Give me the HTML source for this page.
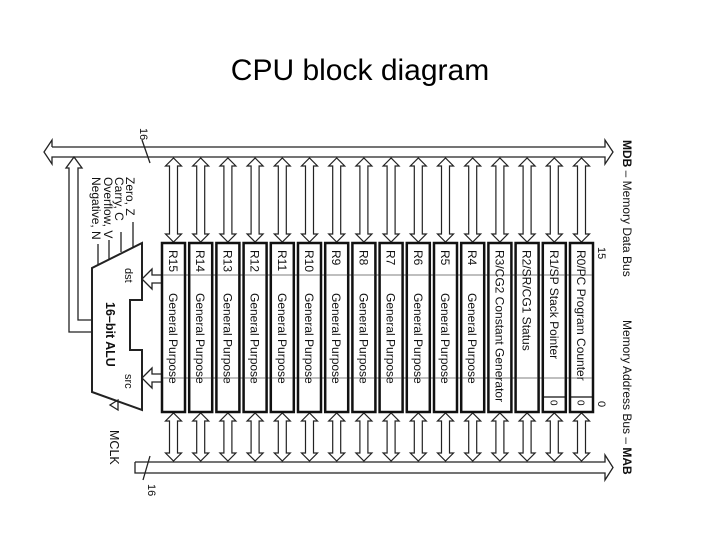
<!DOCTYPE html>
<html><head><meta charset="utf-8"><style>
html,body{margin:0;padding:0;background:#fff;}
svg{display:block;font-family:"Liberation Sans",sans-serif;}
</style></head><body>
<svg id="s" width="720" height="540" viewBox="0 0 720 540" xmlns="http://www.w3.org/2000/svg">
<text x="360" y="80" font-size="30" text-anchor="middle" fill="#000">CPU block diagram</text>
<g fill="none" stroke="#222" stroke-width="1.3">
<polyline points="52,147 605,147 605,140 613,152 605,164 605,157 52,157 52,164 44,152 52,140 52,147" fill="#fff"/>
<polyline points="135,462 605,462 605,455 613,467.5 605,480 605,473 135,473 135,462" fill="#fff"/>
<line x1="142" y1="140" x2="150" y2="163"/>
<line x1="150" y1="456" x2="143" y2="480"/>
<polygon points="142,243 142,300 130,300 130,350 142,350 142,410 92,392 92,268" stroke-width="2" fill="#fff"/>
<polyline points="92,320 78,320 78,168 82,168 74,157 66,168 69,168 69,332 92,332"/>
<line x1="133" y1="222" x2="133" y2="247"/>
<line x1="121" y1="232" x2="121" y2="252"/>
<line x1="109" y1="240" x2="109" y2="259"/>
<line x1="98" y1="244" x2="98" y2="265"/>
<polyline points="162,275 152,275 152,269 142,279 152,289 152,283 162,283"/>
<polyline points="162,374 152,374 152,368 142,378 152,388 152,382 162,382"/>
<polygon points="118,400 118,410 110,405"/>
</g>
<g font-size="12" fill="#111">
<text transform="translate(126,177) rotate(90)">Zero, Z</text>
<text transform="translate(115,177) rotate(90)">Carry, C</text>
<text transform="translate(104,177) rotate(90)">Overflow, V</text>
<text transform="translate(92,177) rotate(90)">Negative, N</text>
<text transform="translate(125,268) rotate(90)" font-size="11">dst</text>
<text transform="translate(125,374) rotate(90)" font-size="11">src</text>
<text transform="translate(106,302) rotate(90)" font-weight="bold" font-size="12.5">16–bit ALU</text>
<text transform="translate(110,430) rotate(90)" font-size="12.5">MCLK</text>
<text transform="translate(140,128) rotate(90)" font-size="11">16</text>
<text transform="translate(148,484) rotate(90)" font-size="11">16</text>
<text transform="translate(598,247) rotate(90)" font-size="11">15</text>
<text transform="translate(598,401) rotate(90)" font-size="11">0</text>
<text transform="translate(623,140) rotate(90)" font-size="12"><tspan font-weight="bold">MDB</tspan> – Memory Data Bus</text>
<text transform="translate(623,320) rotate(90)" font-size="12">Memory Address Bus – <tspan font-weight="bold">MAB</tspan></text>
</g>
<g id="regs"></g>
</svg>
<script>
var names=[["R15","General Purpose"],["R14","General Purpose"],["R13","General Purpose"],["R12","General Purpose"],["R11","General Purpose"],["R10","General Purpose"],["R9","General Purpose"],["R8","General Purpose"],["R7","General Purpose"],["R6","General Purpose"],["R5","General Purpose"],["R4","General Purpose"],["R3/CG2","Constant Generator"],["R2/SR/CG1","Status"],["R1/SP","Stack Pointer"],["R0/PC","Program Counter"]];
var h='';
function arr(cx,y1,y2){return '<polygon points="'+(cx-4)+','+(y1+8)+' '+(cx-8)+','+(y1+8)+' '+cx+','+y1+' '+(cx+8)+','+(y1+8)+' '+(cx+4)+','+(y1+8)+' '+(cx+4)+','+(y2-8)+' '+(cx+8)+','+(y2-8)+' '+cx+','+y2+' '+(cx-8)+','+(y2-8)+' '+(cx-4)+','+(y2-8)+'" fill="#fff" stroke="#222" stroke-width="1.2"/>';}
h+='<line x1="162" y1="275" x2="592" y2="275" stroke="#666" stroke-width="1"/>';
h+='<line x1="162" y1="378" x2="592" y2="378" stroke="#666" stroke-width="1"/>';
for(var i=0;i<16;i++){
 var x=162+i*27.2, cx=x+11.5;
 h+=arr(cx,158,242)+arr(cx,413,461);
 h+='<rect x="'+x+'" y="243" width="23" height="169" fill="none" stroke="#111" stroke-width="2.5"/>';
 h+='<line x1="'+(x+1)+'" y1="275" x2="'+(x+22)+'" y2="275" stroke="#888" stroke-width="0.8"/>';
 h+='<line x1="'+(x+1)+'" y1="378" x2="'+(x+22)+'" y2="378" stroke="#888" stroke-width="0.8"/>';
 var t;
 if(i<12){t='<text transform="translate('+(cx-4.5)+',250) rotate(90)" font-size="12" fill="#111">'+names[i][0]+'</text><text transform="translate('+(cx-4.5)+',293) rotate(90)" font-size="12" fill="#111">'+names[i][1]+'</text>';}
 else{t='<text transform="translate('+(cx-4.5)+',250) rotate(90)" font-size="12" fill="#111">'+names[i][0]+' '+names[i][1]+'</text>';}
 h+=t;
 if(i>=14){h+='<line x1="'+x+'" y1="397" x2="'+(x+23)+'" y2="397" stroke="#111" stroke-width="1.2"/><text transform="translate('+(cx-4)+',400) rotate(90)" font-size="10" fill="#111">0</text>';}
}
document.getElementById('regs').innerHTML=h;
</script>
</body></html>
